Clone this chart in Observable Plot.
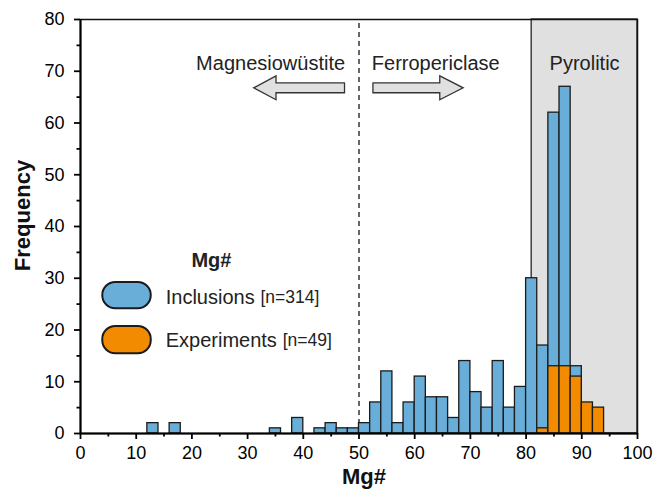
<!DOCTYPE html>
<html>
<head>
<meta charset="utf-8">
<script src="https://cdn.jsdelivr.net/npm/d3@7"></script>
<script src="https://cdn.jsdelivr.net/npm/@observablehq/plot@0.6"></script>
<style>
  html, body { margin: 0; padding: 0; background: #fff; }
  #chart { width: 656px; height: 492px; }
</style>
</head>
<body>
<div id="chart"></div>
<script>
// ---- data ----
const binWidth = 2;
const inclusionBinStarts = [12, 16, 34, 38, 42, 44, 46, 48, 50, 52, 54, 56, 58, 60, 62, 64, 66, 68, 70, 72, 74, 76, 78, 80, 82, 84, 86, 88];
const inclusionCounts    = [ 2,  2,  1,  3,  1,  2,  1,  1,  2,  6, 12,  2,  6, 11,  7,  7,  3, 14,  8,  5, 14,  5,  9, 30, 17, 62, 67, 13];
const experimentBinStarts = [82, 84, 86, 88, 90, 92];
const experimentCounts    = [ 1, 13, 13, 11,  6,  5];

const xTicks = [0, 10, 20, 30, 40, 50, 60, 70, 80, 90, 100];
const xMinorTicks = [5, 15, 25, 35, 45, 55, 65, 75, 85, 95];
const yTicks = [0, 10, 20, 30, 40, 50, 60, 70, 80];
const yMinorTicks = [5, 15, 25, 35, 45, 55, 65, 75];

const seriesNames = ["Inclusions", "Experiments"];
const seriesCounts = ["[n=314]", "[n=49]"];

const pyroliticRange = [81, 100];
const mwFpBoundary = 50;

// ---- styles ----
const BLUE = "#68aed8";
const ORANGE = "#f28b00";
const GREY = "#e0e0e0";
const EDGE = "#1b1b1b";
const FONT = "'Liberation Sans', Arial, Helvetica, sans-serif";

const inclusions = inclusionBinStarts.map((x, i) => ({x1: x, x2: x + binWidth, y: inclusionCounts[i]}));
const experiments = experimentBinStarts.map((x, i) => ({x1: x, x2: x + binWidth, y: experimentCounts[i]}));

// block arrows (annotation geometry, in data units)
function blockArrow(tail, headBase, tip, cy, shaft, head) {
  return [
    {x: tail, y: cy + shaft}, {x: headBase, y: cy + shaft}, {x: headBase, y: cy + head},
    {x: tip, y: cy}, {x: headBase, y: cy - head}, {x: headBase, y: cy - shaft},
    {x: tail, y: cy - shaft}, {x: tail, y: cy + shaft}
  ];
}
const leftArrow = blockArrow(47.4, 35.1, 31.1, 66.8, 0.95, 2.3);
const rightArrow = blockArrow(52.5, 64.5, 68.7, 66.8, 0.95, 2.3);

const legendPills = [
  {x1: 4.0, x2: 12.7, y1: 24.1, y2: 29.2, fill: BLUE},
  {x1: 4.0, x2: 12.7, y1: 15.4, y2: 20.7, fill: ORANGE}
];
const legendNames = [{x: 15.3, y: 26.3, t: seriesNames[0]}, {x: 15.3, y: 18.0, t: seriesNames[1]}];
const legendNs = [{x: 32.3, y: 26.3, t: seriesCounts[0]}, {x: 36.3, y: 18.0, t: seriesCounts[1]}];

const chart = Plot.plot({
  width: 656,
  height: 492,
  marginLeft: 80,
  marginRight: 19,
  marginTop: 19,
  marginBottom: 59,
  style: {fontFamily: FONT, color: "#000", background: "#fff"},
  x: {domain: [0, 100]},
  y: {domain: [0, 80]},
  marks: [
    Plot.rect([{x1: pyroliticRange[0], x2: pyroliticRange[1]}], {x1: "x1", x2: "x2", y1: 0, y2: 80, fill: GREY, stroke: "#222", strokeWidth: 1.3}),
    Plot.ruleX([mwFpBoundary], {y1: 0, y2: 80, stroke: "#666", strokeWidth: 2, strokeDasharray: "5,4"}),
    Plot.rectY(inclusions, {x1: "x1", x2: "x2", y: "y", fill: BLUE, stroke: EDGE, strokeWidth: 1.3}),
    Plot.rectY(experiments, {x1: "x1", x2: "x2", y: "y", fill: ORANGE, stroke: EDGE, strokeWidth: 1.3}),
    Plot.line(leftArrow, {x: "x", y: "y", fill: GREY, stroke: "#333", strokeWidth: 1.3, strokeLinejoin: "miter", strokeMiterlimit: 10}),
    Plot.line(rightArrow, {x: "x", y: "y", fill: GREY, stroke: "#333", strokeWidth: 1.3, strokeLinejoin: "miter", strokeMiterlimit: 10}),
    Plot.text(["Magnesiowüstite"], {x: 47.5, y: 71.5, textAnchor: "end", fontSize: 20, fill: "#222"}),
    Plot.text(["Ferropericlase"], {x: 52.3, y: 71.5, textAnchor: "start", fontSize: 20, fill: "#222"}),
    Plot.text(["Pyrolitic"], {x: (pyroliticRange[0] + pyroliticRange[1]) / 2, y: 71.4, fontSize: 20, fill: "#222"}),
    // legend
    Plot.text(["Mg#"], {x: 23.5, y: 33.4, fontSize: 20, fontWeight: "bold", fill: "#222"}),
    Plot.rect(legendPills, {x1: "x1", x2: "x2", y1: "y1", y2: "y2", fill: "fill", rx: 13, stroke: EDGE, strokeWidth: 2}),
    Plot.text(legendNames, {x: "x", y: "y", text: "t", textAnchor: "start", fontSize: 20, fill: "#222"}),
    Plot.text(legendNs, {x: "x", y: "y", text: "t", textAnchor: "start", fontSize: 17.5, fill: "#222"}),
    // frame & axes
    Plot.frame({stroke: "#111", strokeWidth: 1.5}),
    Plot.ruleY([0], {stroke: "#000", strokeWidth: 2}),
    Plot.ruleX([0], {stroke: "#000", strokeWidth: 2}),
    Plot.axisX({ticks: xTicks, tickSize: 6, tickPadding: 7, fontSize: 18, strokeWidth: 1.8, label: null}),
    Plot.axisX({ticks: xMinorTicks, tickSize: 3.5, text: null, strokeWidth: 1.8, label: null}),
    Plot.axisY({ticks: yTicks, tickSize: 6, tickPadding: 10, fontSize: 18, strokeWidth: 1.8, label: null}),
    Plot.axisY({ticks: yMinorTicks, tickSize: 3.5, text: null, strokeWidth: 1.8, label: null}),
    Plot.text(["Frequency"], {frameAnchor: "left", textAnchor: "middle", dx: -58, dy: -11, rotate: -90, fontSize: 22, fontWeight: "bold", fill: "#111"}),
    Plot.text(["Mg#"], {frameAnchor: "bottom", textAnchor: "middle", dy: 50, dx: 5, fontSize: 22, fontWeight: "bold", fill: "#111"})
  ]
});
document.getElementById("chart").appendChild(chart);
</script>
</body>
</html>
